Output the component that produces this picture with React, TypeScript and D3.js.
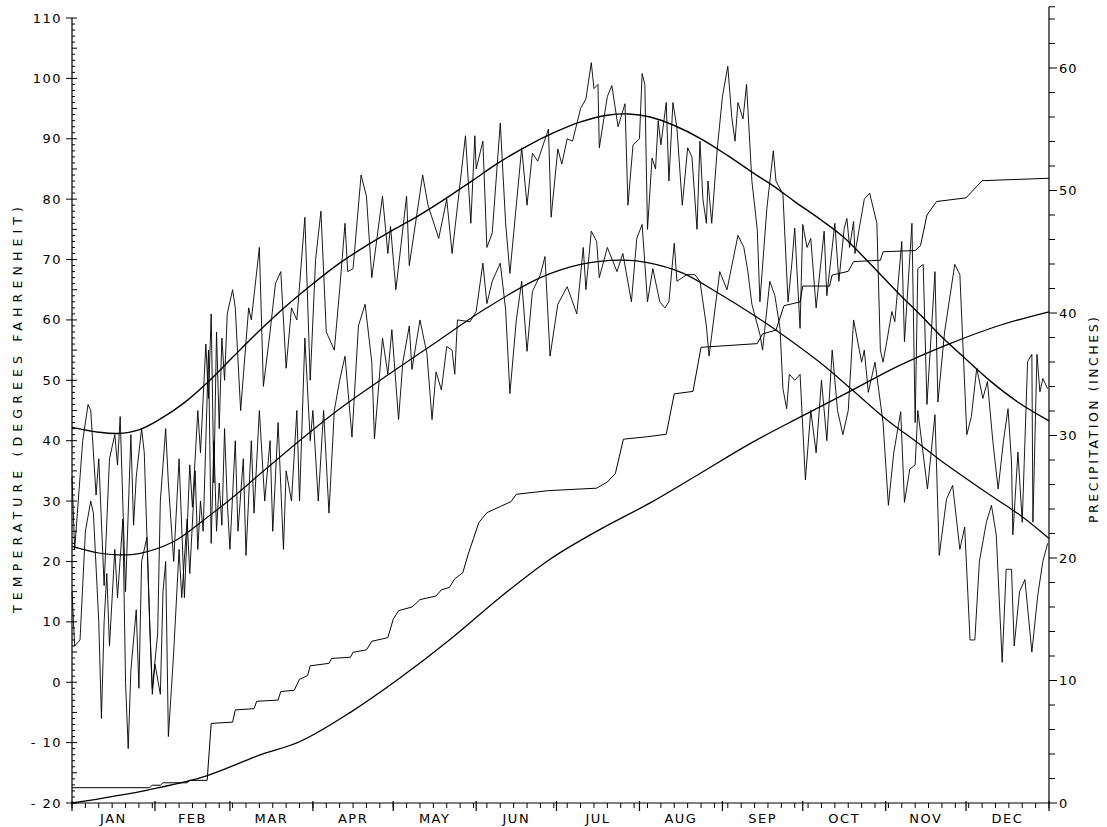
import React from 'react';
import * as d3 from 'd3';

const W = 1107;
const H = 827;
const X0 = 72;
const X1 = 1049;
const YB = 803;
const YT = 18;

const months = ['JAN', 'FEB', 'MAR', 'APR', 'MAY', 'JUN', 'JUL', 'AUG', 'SEP', 'OCT', 'NOV', 'DEC'];
const monthStarts = [0, 31, 59, 90, 120, 151, 181, 212, 243, 273, 304, 334, 365];
const tempTicks = [-20, -10, 0, 10, 20, 30, 40, 50, 60, 70, 80, 90, 100, 110];
const precipTicks = [0, 10, 20, 30, 40, 50, 60];

// normal daily maximum temperature (day of year, deg F)
const normalMax: [number, number][] = [
  [0, 42.2], [10, 41.4], [17, 41.2], [25, 41.8], [33, 43.6], [42, 46.3], [51, 49.8], [60, 53.8],
  [70, 58.2], [80, 62.3], [90, 66], [100, 69.4], [110, 72.3], [120, 74.9], [130, 77.4], [140, 80.2],
  [150, 83.2], [160, 86.2], [170, 88.8], [180, 91], [190, 92.8], [200, 93.9], [208, 94.1], [216, 93.6],
  [225, 92.2], [235, 90], [245, 87.2], [255, 84.2], [262, 82.2], [270, 79.6], [280, 76.5], [288, 73.8],
  [298, 69.4], [309, 64.3], [317, 60.8], [324, 57.6], [332, 54.3], [343, 49.9], [354, 46.2], [365, 43.3],
];

// normal daily minimum temperature
const normalMin: [number, number][] = [
  [0, 22.5], [10, 21.4], [17, 21.1], [25, 21.3], [38, 23.3], [49, 26.8], [60, 30.6], [70, 34.4],
  [85, 40], [100, 45.3], [120, 51.5], [137, 56.6], [155, 62], [175, 67], [190, 69.2], [205, 69.9],
  [215, 69.5], [228, 67.8], [242, 64.3], [254, 61], [264, 58], [279, 53.1], [291, 48.6], [304, 43.6],
  [317, 39.3], [324, 36.9], [343, 31], [355, 27.4], [365, 23.8],
];

// observed daily maximum temperature (turning points)
const dailyMax: [number, number][] = [
  [0, 34], [1, 22], [2, 28], [4, 40], [6, 46], [7, 45], [9, 31], [10, 37], [12, 16], [14, 37], [16, 41],
  [17, 36], [18, 44], [20, 15], [22, 41], [23, 26], [24, 34], [26, 42], [27, 38], [29, 10], [30, -1],
  [32, 8], [33, 30], [35, 42], [36, 33], [38, 20], [40, 37], [42, 14], [44, 36], [45, 29], [47, 45],
  [48, 38], [50, 56], [51, 47], [52, 61], [53, 33], [54, 58], [55, 42], [56, 57], [57, 50], [58, 61],
  [60, 65], [61, 62], [63, 45], [66, 62], [67, 60], [70, 72], [71.5, 49], [74, 58], [76, 66], [78, 68],
  [80, 52], [82, 62], [84, 60], [87, 77], [89, 50], [91, 70], [93, 78], [95, 58], [98, 55], [100, 65],
  [102, 76], [103, 68], [105, 68.5], [108, 84], [110, 80.5], [112, 67], [116, 80.5], [118, 71], [119, 75.5],
  [121, 65], [125, 80.5], [126, 69], [131, 84], [133, 79], [137, 73.5], [140, 80], [142, 71], [147, 90.5],
  [149, 76], [150.5, 90.5], [151, 85], [153.5, 89.6], [155, 72], [157, 74.4], [160, 92.6], [162, 76],
  [163.6, 67.7], [168, 88.5], [170, 79], [172, 87.6], [174, 86.3], [178, 91.6], [179, 77], [181.5, 88.3],
  [183, 85.8], [185, 90], [187, 89.6], [190, 95], [192, 96.6], [194, 102.6], [195, 98.3], [196.5, 99],
  [197, 88.5], [200, 97], [201.7, 98.8], [204, 92], [206.6, 95.8], [207.7, 79], [209.6, 89], [212, 90],
  [213, 100.8], [214, 99], [215, 75], [216.7, 86.8], [218, 85], [219, 93], [220, 89], [222, 96], [223, 83],
  [224.5, 96], [226, 91.8], [228, 79], [230, 88.5], [231.6, 87], [233.5, 75], [234.6, 89.6], [235.7, 80],
  [237, 76], [237.6, 83], [239, 76], [241, 88], [243, 97], [245, 102], [246.5, 93.5], [247.7, 89.6],
  [248.8, 96], [250.7, 93.3], [252, 99], [254, 83], [256, 75], [257, 63], [259.6, 78.5], [262, 88],
  [263, 83], [265.6, 80.8], [267.5, 63], [269, 69.7], [270, 75.2], [272, 58.6], [273, 75.8], [274.6, 72],
  [276, 73.5], [278, 62], [281, 74.7], [282, 64], [285, 76], [286.5, 66.4], [288.5, 75.2], [289.5, 76.8],
  [290.5, 72], [292, 76.3], [292.5, 71], [296, 80], [298, 81], [300.7, 76], [302, 55], [303, 53],
  [304.4, 56.4], [306.3, 61.4], [307.4, 59.7], [310, 73], [311, 56.4], [313.8, 76], [315, 43], [316, 68.5],
  [318, 69.2], [319.4, 46], [322.4, 68], [323.5, 46.4], [326, 58], [329.8, 69.2], [331.7, 67.5],
  [334.3, 41], [336, 44], [338, 52], [340.3, 47], [342, 49.8], [344, 40], [346, 32], [348, 40],
  [349.7, 45.3], [351, 36.5], [351.5, 24.4], [353.4, 38.1], [355, 26.5], [357, 53.1], [358.6, 54.3],
  [359, 26.5], [360.5, 54.3], [361.6, 48.1], [362.7, 50.3], [364.5, 48.6],
];

// observed daily minimum temperature (turning points)
const dailyMin: [number, number][] = [
  [0, 15], [1, 6], [3, 7], [5, 25], [7, 30], [8, 28], [10, 10], [11, -6], [12, 10], [13, 18], [14, 6],
  [16, 22], [17, 14], [19, 27], [20, 0], [21, -11], [22, 2], [24, 12], [25, -1], [26, 20], [28, 24],
  [29, 10], [30, -2], [31, 3], [33, -2], [34, 15], [35, 20], [36, -9], [38, 5], [40, 22], [41, 14],
  [43, 27], [44, 18], [46, 35], [47, 22], [48, 30], [49, 25], [50, 40], [51, 55], [52, 23], [53, 40],
  [54, 25], [55, 33], [56, 26], [57, 42], [58, 30], [59, 22], [61, 40], [62, 25], [64, 37], [65, 21],
  [67, 40], [68, 28], [70, 45], [72, 30], [74, 40], [75, 25], [77, 43], [79, 22], [80, 35], [82, 30],
  [84, 45], [85, 30], [87, 57], [89, 40], [90, 45], [92, 30], [94, 45], [96, 28], [98, 45], [100, 50],
  [102, 54], [104.6, 40.6], [107, 59], [109.5, 62.6], [112, 53], [113, 40.3], [116, 57], [118, 51],
  [119.5, 58.4], [122, 43.5], [123.6, 53], [126, 59], [127, 51.8], [130, 60], [132.6, 54.4], [134.5, 43.5],
  [136, 51.4], [138, 48.4], [140, 55.6], [142, 55], [143, 51], [144, 60], [148.7, 59.7], [151, 61.4],
  [153.5, 69.4], [155, 62.7], [157, 66.4], [160, 69.4], [162, 61.7], [163.6, 47.8], [166, 60], [168, 66.4],
  [170, 54.8], [172, 64.7], [175, 67.5], [176.7, 70.5], [178.6, 54], [181.5, 62.6], [185, 65.5],
  [188.6, 61], [191, 72], [192, 65], [194, 74.7], [196, 73], [197, 67], [200, 72], [203.6, 68],
  [205.8, 71], [209, 63], [211, 73.5], [213, 75.8], [215, 63], [217, 68.5], [219.6, 63], [221.5, 62],
  [223, 63], [225, 72.7], [226, 66.4], [229.7, 67.5], [232.7, 67.5], [234.6, 66.4], [237, 59], [238, 54],
  [242, 68], [244.7, 65], [248.8, 74], [251, 72], [252.5, 68], [254, 62.6], [257, 57.6], [258, 55],
  [260.7, 66.4], [262.6, 64], [264.5, 58.6], [265.6, 48.6], [267, 45.3], [268, 51], [270, 50], [272, 51],
  [274, 33.5], [276, 45], [278, 38], [280, 50], [282, 40], [284, 55], [286, 45], [288, 41], [290, 45],
  [292, 60], [295, 53], [296, 55], [297.5, 48], [300, 53], [303, 43], [305, 29.3], [307, 38], [309.6, 44.8],
  [311, 29.8], [313, 35.3], [315, 36], [316, 45], [319.6, 32], [322.4, 44.3], [324, 21], [326.7, 30.3],
  [329, 32.6], [331.7, 22], [333.5, 25.7], [335.5, 7], [337.3, 7], [339, 20], [341.6, 26.5], [343.5, 29.3],
  [345.3, 24.4], [347.5, 3.3], [349, 18.7], [351, 18.7], [352, 6], [354, 15], [356, 17], [358.6, 5],
  [360.8, 14.4], [362.7, 20], [364.5, 23],
];

// observed cumulative precipitation (inches), drawn as a stepped trace
const precipActual: [number, number][] = [
  [0, 1.25], [29, 1.25], [30, 1.45], [33, 1.45], [34, 1.65], [43, 1.65], [44, 1.85], [50.5, 1.85],
  [52, 6.5], [60, 6.6], [61, 7.6], [68, 7.7], [69, 8.3], [77, 8.4], [78, 9.1], [83, 9.2], [85, 10.1],
  [88, 10.4], [89, 11.2], [96, 11.4], [97, 11.8], [104, 11.9], [105, 12.3], [110, 12.5], [112, 13.2],
  [118, 13.5], [120, 15], [122, 15.7], [127, 16], [130, 16.6], [136, 16.9], [138, 17.4], [141, 17.6],
  [143, 18.3], [146, 18.8], [148, 20.3], [150, 21.6], [152, 22.9], [155, 23.7], [160, 24.2], [164, 24.6],
  [166, 25.2], [178, 25.5], [196, 25.7], [200, 26.2], [203, 26.9], [206, 29.7], [215, 29.9], [222, 30.1],
  [225, 33.4], [232, 33.6], [235, 37.2], [256, 37.5], [258, 38.3], [263, 38.6], [266, 40.6], [272, 40.9],
  [273, 42.2], [283, 42.2], [284, 43.1], [290, 43.4], [292, 44.2], [302, 44.3], [303, 45], [315, 45.1],
  [317, 45.5], [319.4, 48], [323, 49.1], [334, 49.4], [340, 50.8], [365, 51],
];

// normal cumulative precipitation (inches)
const precipNormal: [number, number][] = [
  [0, 0], [29, 1.1], [50, 2.2], [70, 3.9], [85, 5], [104, 7.4], [122.5, 10.2], [141, 13.3], [160, 16.8],
  [178.6, 19.9], [197, 22.3], [216, 24.5], [234.6, 26.9], [253, 29.3], [272, 31.5], [290.6, 33.6],
  [309, 35.7], [328, 37.5], [346.7, 39], [365, 40.1],
];

const FONT = "'DejaVu Sans', 'Liberation Sans', sans-serif";

export default function App() {
  const x = d3.scaleLinear().domain([0, 365]).range([X0, X1]);
  const yT = d3.scaleLinear().domain([-20, 110]).range([YB, YT]);
  const yP = d3.scaleLinear().domain([0, 65]).range([YB, YB - 65 * 12.25]);

  const smoothT = d3.line<[number, number]>().x(d => x(d[0])).y(d => yT(d[1])).curve(d3.curveCatmullRom.alpha(0.5));
  const jagT = d3.line<[number, number]>().x(d => x(d[0])).y(d => yT(d[1]));
  const linP = d3.line<[number, number]>().x(d => x(d[0])).y(d => yP(d[1]));
  const smoothP = d3.line<[number, number]>().x(d => x(d[0])).y(d => yP(d[1])).curve(d3.curveMonotoneX);

  const minorTemp = d3.range(-20, 111, 1);
  const minorPrecip = d3.range(0, 65, 2).concat([65]);
  const dayTicks = d3.range(0, 366, 5);

  return (
    <svg width={W} height={H} style={{ display: 'block', position: 'absolute', left: 0, top: 0, background: '#fff' }}>
      <g fill="none" stroke="#000">
        <line x1={X0} y1={YT} x2={X0} y2={YB} strokeWidth={1.2} />
        <line x1={X1} y1={yP(65)} x2={X1} y2={YB} strokeWidth={1.2} />
        <line x1={X0} y1={YB} x2={X1} y2={YB} strokeWidth={1.2} />
        {minorTemp.map(v => (
          <line key={'mt' + v} x1={v % 10 === 0 ? X0 - 6 : X0} y1={yT(v)} x2={X0 + (v % 5 === 0 ? 5 : 3)} y2={yT(v)} strokeWidth={1} />
        ))}
        {minorPrecip.map(v => (
          <line key={'mp' + v} x1={X1} y1={yP(v)} x2={X1 + (v % 10 === 0 ? 8 : 6)} y2={yP(v)} strokeWidth={1} />
        ))}
        {dayTicks.map(d => (
          <line key={'dt' + d} x1={x(d)} y1={YB} x2={x(d)} y2={YB + 5} strokeWidth={1} />
        ))}
        {monthStarts.map(d => (
          <line key={'ms' + d} x1={x(d)} y1={YB - 2} x2={x(d)} y2={YB + 8} strokeWidth={1.2} />
        ))}
      </g>
      <g fill="none" stroke="#000" strokeLinejoin="round">
        <path d={jagT(dailyMax) || ''} strokeWidth={0.9} />
        <path d={jagT(dailyMin) || ''} strokeWidth={0.9} />
        <path d={smoothT(normalMax) || ''} strokeWidth={1.4} />
        <path d={smoothT(normalMin) || ''} strokeWidth={1.2} />
        <path d={linP(precipActual) || ''} strokeWidth={1} />
        <path d={smoothP(precipNormal) || ''} strokeWidth={1.3} />
      </g>
      <g fontFamily={FONT} fontSize={13} fill="#000">
        {tempTicks.map(v => (
          <text key={'tl' + v} x={62} y={yT(v)} dy="0.35em" textAnchor="end" letterSpacing={1.5}>{v < 0 ? '- ' + Math.abs(v) : String(v)}</text>
        ))}
        {precipTicks.map(v => (
          <text key={'pl' + v} x={1059} y={yP(v)} dy="0.35em" textAnchor="start" letterSpacing={1}>{v}</text>
        ))}
        {months.map((m, i) => (
          <text key={m} x={x((monthStarts[i] + monthStarts[i + 1]) / 2)} y={YB + 20} textAnchor="middle" letterSpacing={1.5}>{m}</text>
        ))}
        <text transform={`translate(22, 410) rotate(-90)`} textAnchor="middle" fontSize={12.5} textLength={406} lengthAdjust="spacing">TEMPERATURE (DEGREES FAHRENHEIT)</text>
        <text transform={`translate(1098, 420) rotate(-90)`} textAnchor="middle" fontSize={12.5} textLength={206} lengthAdjust="spacing">PRECIPITATION (INCHES)</text>
      </g>
    </svg>
  );
}
